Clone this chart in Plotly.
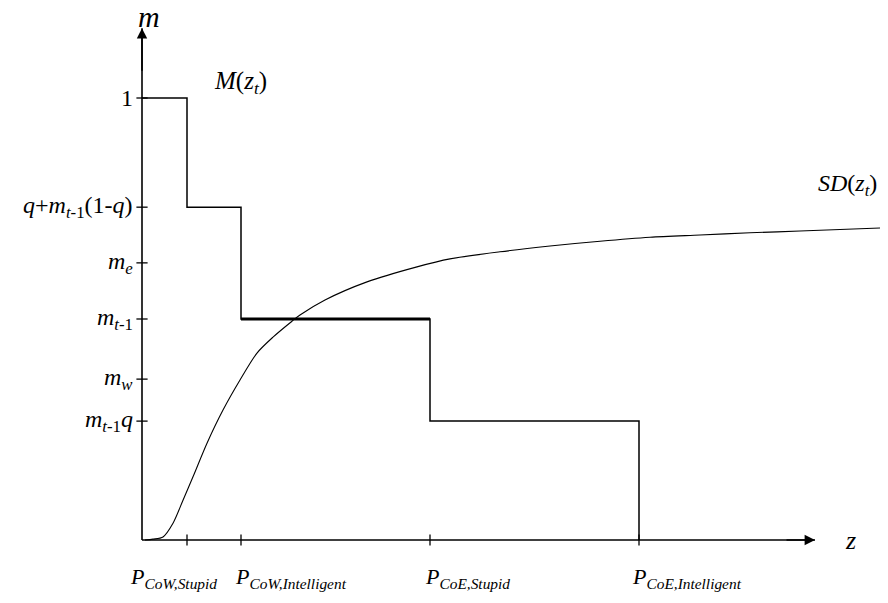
import plotly.graph_objects as go

# ---- data ----
x_tick_vals = [0.45, 0.99, 2.88, 4.97]
x_tick_text = ["<i>P</i><sub><i>CoW,Stupid</i></sub>",
               "<i>P</i><sub><i>CoW,Intelligent</i></sub>",
               "<i>P</i><sub><i>CoE,Stupid</i></sub>",
               "<i>P</i><sub><i>CoE,Intelligent</i></sub>"]
y_tick_vals = [1.0, 0.753, 0.627, 0.5, 0.364, 0.269]
y_tick_text = ["1", "<i>q</i>+<i>m</i><sub><i>t</i>-1</sub>(1-<i>q</i>)",
               "<i>m</i><sub><i>e</i></sub>", "<i>m</i><sub><i>t</i>-1</sub>",
               "<i>m</i><sub><i>w</i></sub>", "<i>m</i><sub><i>t</i>-1</sub><i>q</i>"]

# step function M(z_t)
m_x = [0.0, 0.45, 0.99, 2.88, 4.97]
m_y = [1.0, 0.753, 0.5, 0.269, 0.0]
# highlighted segment at m_{t-1}
hl_x = [0.99, 2.88]
hl_y = [0.5, 0.5]

# SD(z_t) curve
sd_x = [0.03, 0.11, 0.21, 0.31, 0.41, 0.51, 0.65, 0.81, 0.98, 1.15, 1.31, 1.50,
        1.58, 1.83, 2.25, 2.75, 3.08, 3.58, 4.08, 4.58, 5.08, 5.58, 6.08, 6.58, 7.38]
sd_y = [0.0, 0.002, 0.007, 0.038, 0.090, 0.143, 0.219, 0.294, 0.362, 0.423, 0.459, 0.495,
        0.509, 0.543, 0.584, 0.618, 0.636, 0.652, 0.665, 0.676, 0.685, 0.690, 0.695, 0.699, 0.706]

x_axis_end = 6.73
y_axis_end = 1.158

FONT = "Liberation Serif"
BLACK = "#000000"

fig = go.Figure()

# axes lines
fig.add_trace(go.Scatter(x=[0, x_axis_end], y=[0, 0], mode="lines",
                         line=dict(color=BLACK, width=1.6), hoverinfo="skip"))
fig.add_trace(go.Scatter(x=[0, 0], y=[0, y_axis_end], mode="lines",
                         line=dict(color=BLACK, width=1.6), hoverinfo="skip"))

# step function
fig.add_trace(go.Scatter(x=m_x, y=m_y, mode="lines", line_shape="hv",
                         line=dict(color=BLACK, width=1.5), hoverinfo="skip"))
fig.add_trace(go.Scatter(x=hl_x, y=hl_y, mode="lines",
                         line=dict(color=BLACK, width=3.2), hoverinfo="skip"))

# SD curve
fig.add_trace(go.Scatter(x=sd_x, y=sd_y, mode="lines", line_shape="spline",
                         line=dict(color=BLACK, width=1.1, smoothing=0.8), hoverinfo="skip"))

# tick marks
fig.add_trace(go.Scatter(x=x_tick_vals, y=[0] * len(x_tick_vals), mode="markers",
                         marker=dict(symbol="line-ns", size=8,
                                     line=dict(color=BLACK, width=1.3)),
                         hoverinfo="skip"))
fig.add_trace(go.Scatter(x=[0] * len(y_tick_vals), y=y_tick_vals, mode="markers",
                         marker=dict(symbol="line-ew", size=8,
                                     line=dict(color=BLACK, width=1.3)),
                         hoverinfo="skip"))

# arrows
fig.add_annotation(x=x_axis_end, y=0, ax=x_axis_end - 0.3, ay=0, xref="x", yref="y",
                   axref="x", ayref="y", showarrow=True, arrowhead=2, arrowsize=1.3,
                   arrowwidth=1.6, arrowcolor=BLACK, text="")
fig.add_annotation(x=0, y=y_axis_end, ax=0, ay=y_axis_end - 0.1, xref="x", yref="y",
                   axref="x", ayref="y", showarrow=True, arrowhead=2, arrowsize=1.3,
                   arrowwidth=1.6, arrowcolor=BLACK, text="")

# y tick labels
for v, t in zip(y_tick_vals, y_tick_text):
    fig.add_annotation(x=-0.07, y=v, text=t, showarrow=False, xanchor="right",
                       yanchor="middle", font=dict(family=FONT, size=24, color=BLACK))

# x tick labels (left edge offsets, in x units)
x_label_offsets = [-0.59, -0.08, -0.07, -0.09]
for v, t, o in zip(x_tick_vals, x_tick_text, x_label_offsets):
    fig.add_annotation(x=v + o, y=-0.087, text=t, showarrow=False, xanchor="left",
                       yanchor="middle", font=dict(family=FONT, size=22, color=BLACK))

# axis titles and curve labels
fig.add_annotation(x=0.07, y=1.185, text="<i>m</i>", showarrow=False,
                   font=dict(family=FONT, size=30, color=BLACK))
fig.add_annotation(x=7.08, y=0, text="<i>z</i>", showarrow=False,
                   font=dict(family=FONT, size=26, color=BLACK))
fig.add_annotation(x=0.98, y=1.036, text="<i>M</i>(<i>z<sub>t</sub></i>)", showarrow=False,
                   font=dict(family=FONT, size=25, color=BLACK))
fig.add_annotation(x=7.05, y=0.803, text="<i>SD</i>(<i>z<sub>t</sub></i>)", showarrow=False,
                   font=dict(family=FONT, size=24, color=BLACK))

fig.update_layout(
    width=888, height=603,
    margin=dict(l=0, r=0, t=0, b=0),
    paper_bgcolor="white", plot_bgcolor="white",
    showlegend=False,
    font=dict(family=FONT, color=BLACK),
    xaxis=dict(range=[-1.42, 7.46], visible=False, fixedrange=True),
    yaxis=dict(range=[-0.1425, 1.2217], visible=False, fixedrange=True),
)

fig.write_html("out.html", config={"displayModeBar": False},
               post_script="document.body.style.margin='0';")
